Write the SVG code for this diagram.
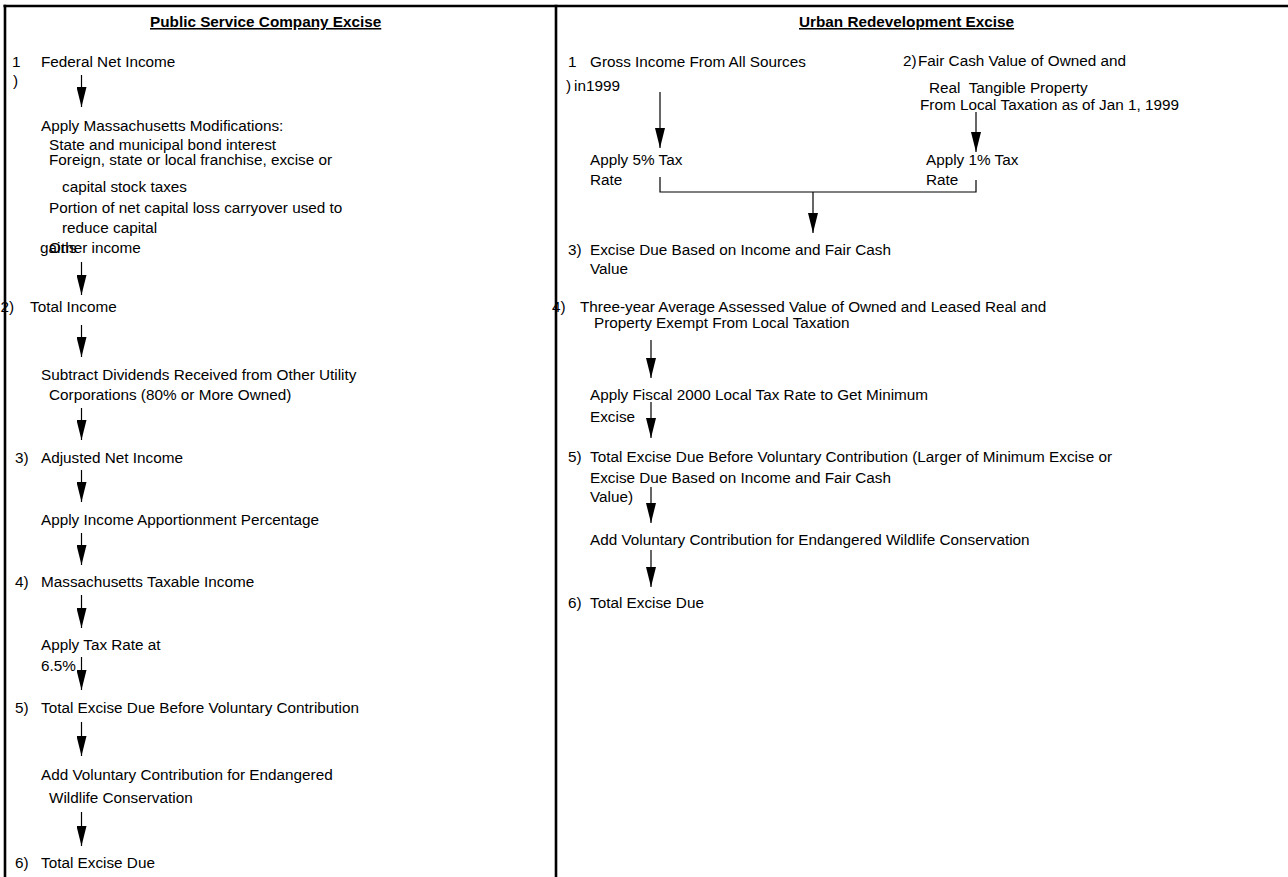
<svg xmlns="http://www.w3.org/2000/svg" width="1288" height="877" viewBox="0 0 1288 877">
<style>
text{font-family:"Liberation Sans",Arial,sans-serif;font-size:15.3px;fill:#000;white-space:pre}
.title{font-weight:bold;text-decoration:underline}
.frame{stroke:#000;stroke-width:2.6;fill:none}
.conn{stroke:#000;stroke-width:1.2;fill:none}
.arr{marker-end:url(#ah)}
</style>
<defs>
<marker id="ah" viewBox="0 0 20 10" markerWidth="20" markerHeight="10" refX="20" refY="5" orient="auto" markerUnits="userSpaceOnUse">
<path d="M0,0 L20,5 L0,10 Z" fill="#000"/>
</marker>
</defs>
<rect x="0" y="0" width="1288" height="877" fill="#fff"/>

<g id="left-title"><text class="title" x="150" y="27">Public Service Company Excise</text></g>
<g id="L1"><text x="12" y="67">1</text><text x="13" y="86">)</text><text x="41" y="67">Federal Net Income</text></g>
<g id="L-mod">
<text x="41" y="131">Apply Massachusetts Modifications:</text>
<text x="49" y="150">State and municipal bond interest</text>
<text x="49" y="165">Foreign, state or local franchise, excise or</text>
<text x="62" y="192">capital stock taxes</text>
<text x="49" y="213">Portion of net capital loss carryover used to</text>
<text x="62" y="233">reduce capital</text>
<text x="40" y="253">gains</text>
<text x="49" y="253">Other income</text>
</g>
<g id="L2"><text x="0.5" y="312">2)</text><text x="30" y="312">Total Income</text></g>
<g id="L-sub"><text x="41" y="380">Subtract Dividends Received from Other Utility</text><text x="49" y="400">Corporations (80% or More Owned)</text></g>
<g id="L3"><text x="15" y="463">3)</text><text x="41" y="463">Adjusted Net Income</text></g>
<g id="L-app"><text x="41" y="525">Apply Income Apportionment Percentage</text></g>
<g id="L4"><text x="15" y="587">4)</text><text x="41" y="587">Massachusetts Taxable Income</text></g>
<g id="L-rate"><text x="41" y="650">Apply Tax Rate at</text><text x="41" y="671">6.5%</text></g>
<g id="L5"><text x="15" y="713">5)</text><text x="41" y="713">Total Excise Due Before Voluntary Contribution</text></g>
<g id="L-vol"><text x="41" y="780">Add Voluntary Contribution for Endangered</text><text x="49" y="803">Wildlife Conservation</text></g>
<g id="L6"><text x="15" y="868">6)</text><text x="41" y="868">Total Excise Due</text></g>

<g id="right-title"><text class="title" x="799" y="27">Urban Redevelopment Excise</text></g>
<g id="R1"><text x="568" y="67">1</text><text x="590" y="67">Gross Income From All Sources</text><text x="566" y="90.5">)</text><text x="574" y="90.5">in1999</text></g>
<g id="R2"><text x="903" y="66">2)</text><text x="918" y="66">Fair Cash Value of Owned and</text><text x="929" y="92.5">Real  Tangible Property</text><text x="920" y="110">From Local Taxation as of Jan 1, 1999</text></g>
<g id="R-5pct"><text x="590" y="165">Apply 5% Tax</text><text x="590" y="185">Rate</text></g>
<g id="R-1pct"><text x="926" y="165">Apply 1% Tax</text><text x="926" y="185">Rate</text></g>
<g id="R3"><text x="568" y="255">3)</text><text x="590" y="255">Excise Due Based on Income and Fair Cash</text><text x="590" y="274">Value</text></g>
<g id="R4"><text x="552" y="312">4)</text><text x="580" y="312">Three-year Average Assessed Value of Owned and Leased Real and</text><text x="594" y="328">Property Exempt From Local Taxation</text></g>
<g id="R-min"><text x="590" y="400">Apply Fiscal 2000 Local Tax Rate to Get Minimum</text><text x="590" y="422">Excise</text></g>
<g id="R5"><text x="568" y="462">5)</text><text x="590" y="462">Total Excise Due Before Voluntary Contribution (Larger of Minimum Excise or</text><text x="590" y="483">Excise Due Based on Income and Fair Cash</text><text x="590" y="502">Value)</text></g>
<g id="R-vol"><text x="590" y="545">Add Voluntary Contribution for Endangered Wildlife Conservation</text></g>
<g id="R6"><text x="568" y="608">6)</text><text x="590" y="608">Total Excise Due</text></g>

<g id="connectors">
<line class="conn arr" x1="81.5" y1="75" x2="81.5" y2="107"/>
<line class="conn arr" x1="81.5" y1="262" x2="81.5" y2="295"/>
<line class="conn arr" x1="81.5" y1="325" x2="81.5" y2="357"/>
<line class="conn arr" x1="81.5" y1="408" x2="81.5" y2="440"/>
<line class="conn arr" x1="81.5" y1="470" x2="81.5" y2="502"/>
<line class="conn arr" x1="81.5" y1="533" x2="81.5" y2="565"/>
<line class="conn arr" x1="81.5" y1="595" x2="81.5" y2="628"/>
<line class="conn arr" x1="81.5" y1="657" x2="81.5" y2="690"/>
<line class="conn arr" x1="81.5" y1="722" x2="81.5" y2="756"/>
<line class="conn arr" x1="81.5" y1="812" x2="81.5" y2="846"/>
<line class="conn arr" x1="660" y1="92" x2="660" y2="148"/>
<line class="conn arr" x1="976" y1="112" x2="976" y2="152"/>
<polyline class="conn" points="660,177 660,192 976,192 976,180"/>
<line class="conn arr" x1="813" y1="192" x2="813" y2="233"/>
<line class="conn arr" x1="651" y1="340" x2="651" y2="378"/>
<line class="conn arr" x1="651" y1="402" x2="651" y2="438"/>
<line class="conn arr" x1="651" y1="487" x2="651" y2="523"/>
<line class="conn arr" x1="651" y1="550" x2="651" y2="587"/>
</g>

<g id="frame">
<line class="frame" x1="3.5" y1="6" x2="1288" y2="6"/>
<line class="frame" x1="5" y1="4.7" x2="5" y2="877"/>
<line class="frame" x1="556" y1="4.7" x2="556" y2="877"/>
</g>
</svg>
